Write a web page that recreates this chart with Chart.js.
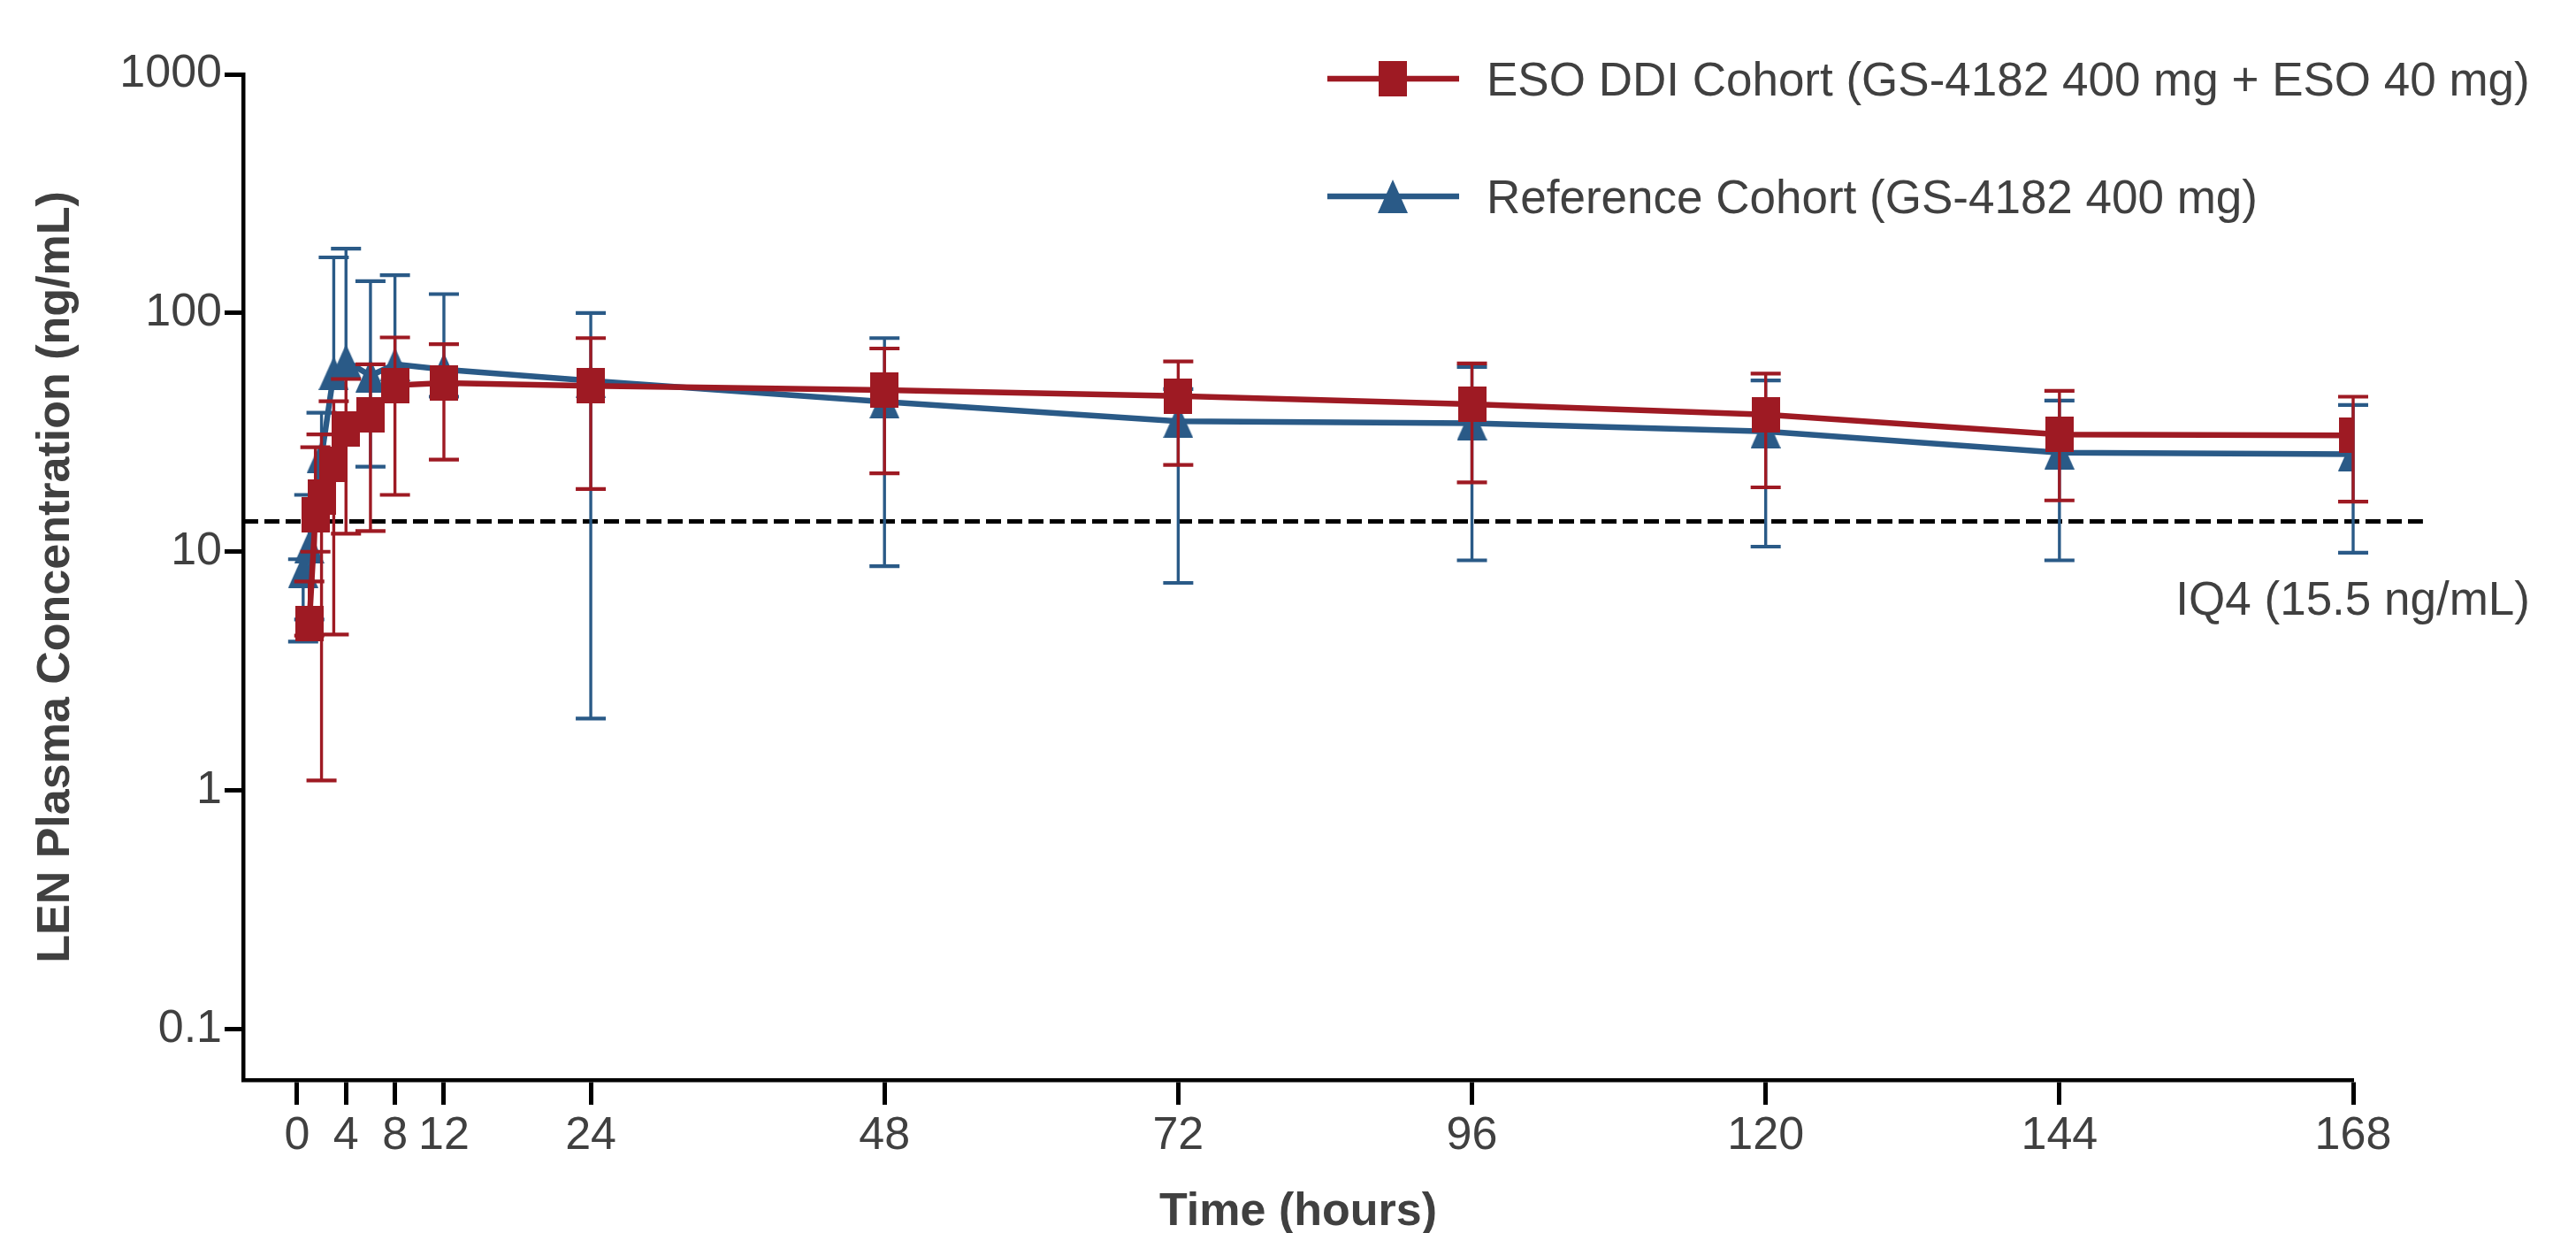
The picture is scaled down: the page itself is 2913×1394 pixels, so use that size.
<!DOCTYPE html>
<html>
<head>
<meta charset="utf-8">
<title>LEN plasma concentration</title>
<script src="https://cdn.jsdelivr.net/npm/chart.js@4.4.1/dist/chart.umd.min.js"></script>
<style>
  html, body { margin: 0; padding: 0; background: #fff; }
  canvas { display: block; }
</style>
</head>
<body>
<canvas id="pkChart" width="2913" height="1394"></canvas>
<script>
// sampling times (hours)
const esoTimes = [1, 1.5, 2, 3, 4, 6, 8, 12, 24, 48, 72, 96, 120, 144, 168];
const refTimes = [0.5, 1, 2, 3, 4, 6, 8, 12, 24, 48, 72, 96, 120, 144, 168];

// ESO DDI cohort: mean and error bar ends (ng/mL)
const esoMean  = [5.0, 14.3, 16.9, 23.3, 32.8, 37.6, 49.8, 50.9, 49.5, 47.5, 44.9, 41.5, 37.5, 31.0, 30.7];
const esoHigh  = [7.5, 27.4, 31.0, 42.7, 52.9, 61.0, 79.0, 74.0, 78.5, 71.0, 62.7, 61.5, 55.7, 47.2, 44.6];
const esoLow   = [4.45, 10.0, 1.1, 4.5, 11.9, 12.2, 17.3, 24.3, 18.3, 21.3, 23.1, 19.5, 18.6, 16.4, 16.2];

// reference cohort
const refMean  = [8.3, 10.5, 25.0, 56.0, 63.0, 54.6, 61.0, 58.0, 52.0, 42.5, 35.2, 34.5, 31.9, 26.0, 25.6];
const refHigh  = [9.3, 17.3, 38.2, 171, 186, 136, 144, 120, 100, 78.5, 48.0, 59.4, 52.2, 43.0, 41.2];
const refLow   = [4.2, 5.2, null, null, null, 22.7, null, 44.6, 2.0, 8.7, 7.4, 9.2, 10.5, 9.2, 9.9];

const iqLevel = 13.4;
const iqLabel = 'IQ4 (15.5 ng/mL)';
const iqSpan = [-4.4, 173.7];

const xTicks = [0, 4, 8, 12, 24, 48, 72, 96, 120, 144, 168];
const yTicks = [0.1, 1, 10, 100, 1000];
const yTickLabels = ['0.1', '1', '10', '100', '1000'];

const esoName = 'ESO DDI Cohort (GS-4182 400 mg + ESO 40 mg)';
const refName = 'Reference Cohort (GS-4182 400 mg)';

const RED = '#9e1a23';
const BLUE = '#2a5a87';
const TEXT = '#404040';
const FONT = "'Liberation Sans', Arial, Helvetica, sans-serif";

function markerImage(shape, color) {
  const c = document.createElement('canvas');
  const g = c.getContext('2d');
  if (shape === 'square') {
    c.width = 32; c.height = 40;
    g.fillStyle = color;
    g.fillRect(0, 0, 32, 40);
  } else {
    c.width = 34; c.height = 38;
    g.fillStyle = color;
    g.beginPath();
    g.moveTo(17, 0);
    g.lineTo(34, 38);
    g.lineTo(0, 38);
    g.closePath();
    g.fill();
  }
  return c;
}
const squareImg = markerImage('square', RED);
const triangleImg = markerImage('triangle', BLUE);

const toPoints = (xs, ys) => xs.map((x, i) => ({x: x, y: ys[i]}));

// draw each dataset's error bars just before its line and markers
const errorBars = {
  id: 'errorBars',
  beforeDatasetDraw(chart, args) {
    const ds = chart.data.datasets[args.index];
    if (!ds.errHigh) return;
    const xs = chart.scales.x, ys = chart.scales.y, ctx = chart.ctx;
    ctx.save();
    ctx.strokeStyle = ds.borderColor;
    ds.data.forEach((p, i) => {
      const x = xs.getPixelForValue(p.x);
      const mid = ys.getPixelForValue(p.y);
      const hi = ds.errHigh[i], lo = ds.errLow[i];
      const top = hi != null ? ys.getPixelForValue(hi) : mid;
      const bot = lo != null ? ys.getPixelForValue(lo) : mid;
      ctx.lineWidth = 3.4;
      ctx.beginPath();
      ctx.moveTo(x, top);
      ctx.lineTo(x, bot);
      ctx.stroke();
      ctx.lineWidth = 4.2;
      [hi != null ? top : null, lo != null ? bot : null].forEach(yy => {
        if (yy === null) return;
        ctx.beginPath();
        ctx.moveTo(x - 17, yy);
        ctx.lineTo(x + 17, yy);
        ctx.stroke();
      });
    });
    ctx.restore();
  }
};

// legend block and IQ4 label
const extras = {
  id: 'extras',
  afterDraw(chart) {
    const ctx = chart.ctx;
    const ys = chart.scales.y;
    ctx.save();
    const items = [
      {name: esoName, color: RED, img: squareImg, y: 89},
      {name: refName, color: BLUE, img: triangleImg, y: 222}
    ];
    items.forEach(it => {
      ctx.strokeStyle = it.color;
      ctx.lineWidth = 6.5;
      ctx.beginPath();
      ctx.moveTo(1501, it.y);
      ctx.lineTo(1650, it.y);
      ctx.stroke();
      ctx.drawImage(it.img, 1575 - it.img.width / 2, it.y - it.img.height / 2);
      ctx.fillStyle = TEXT;
      ctx.font = '53px ' + FONT;
      ctx.textAlign = 'left';
      ctx.textBaseline = 'alphabetic';
      ctx.fillText(it.name, 1681, it.y + 19);
    });
    ctx.fillStyle = TEXT;
    ctx.font = '53px ' + FONT;
    ctx.textAlign = 'right';
    ctx.textBaseline = 'alphabetic';
    ctx.fillText(iqLabel, 2861, ys.getPixelForValue(iqLevel) + 106);
    ctx.restore();
  }
};

const ctx = document.getElementById('pkChart').getContext('2d');
const pkChart = new Chart(ctx, {
  type: 'line',
  data: {
    datasets: [
      {
        label: esoName,
        data: toPoints(esoTimes, esoMean),
        errHigh: esoHigh,
        errLow: esoLow,
        borderColor: RED,
        backgroundColor: RED,
        borderWidth: 6.5,
        pointStyle: squareImg,
        pointRadius: 16,
        tension: 0
      },
      {
        label: refName,
        data: toPoints(refTimes, refMean),
        errHigh: refHigh,
        errLow: refLow,
        borderColor: BLUE,
        backgroundColor: BLUE,
        borderWidth: 6.5,
        pointStyle: triangleImg,
        pointRadius: 16,
        tension: 0
      },
      {
        label: 'IQ4',
        data: iqSpan.map(x => ({x: x, y: iqLevel})),
        borderColor: '#000',
        borderWidth: 5,
        borderDash: [17, 7],
        pointRadius: 0,
        clip: false
      }
    ]
  },
  options: {
    responsive: false,
    animation: false,
    devicePixelRatio: 1,
    layout: { padding: { top: 84, right: 252, left: 0, bottom: 0 } },
    plugins: {
      legend: { display: false },
      tooltip: { enabled: false }
    },
    scales: {
      x: {
        type: 'linear',
        min: -4.4,
        max: 168,
        afterBuildTicks: s => { s.ticks = xTicks.map(v => ({value: v})); },
        afterFit: s => { s.height = 173; },
        ticks: {
          autoSkip: false,
          maxRotation: 0,
          minRotation: 0,
          padding: 4,
          color: TEXT,
          font: { family: FONT, size: 52 }
        },
        grid: { drawOnChartArea: false, tickLength: 28, tickWidth: 5, tickColor: '#000' },
        border: { display: true, width: 4.5, color: '#000' },
        title: {
          display: true,
          text: 'Time (hours)',
          color: TEXT,
          font: { family: FONT, size: 52, weight: 'bold', lineHeight: 0.9 },
          padding: 0
        }
      },
      y: {
        type: 'logarithmic',
        min: 0.0612,
        max: 1000,
        afterBuildTicks: s => { s.ticks = yTicks.map(v => ({value: v})); },
        afterFit: s => { s.width = 275; },
        ticks: {
          padding: 3,
          color: TEXT,
          font: { family: FONT, size: 52 },
          callback: v => yTickLabels[yTicks.indexOf(v)]
        },
        grid: { drawOnChartArea: false, tickLength: 21, tickWidth: 5, tickColor: '#000' },
        border: { display: true, width: 4.5, color: '#000' },
        title: {
          display: true,
          text: 'LEN Plasma Concentration (ng/mL)',
          color: TEXT,
          font: { family: FONT, size: 52, weight: 'bold' },
          padding: { top: 32, bottom: 0 }
        }
      }
    }
  },
  plugins: [errorBars, extras]
});
</script>
</body>
</html>
